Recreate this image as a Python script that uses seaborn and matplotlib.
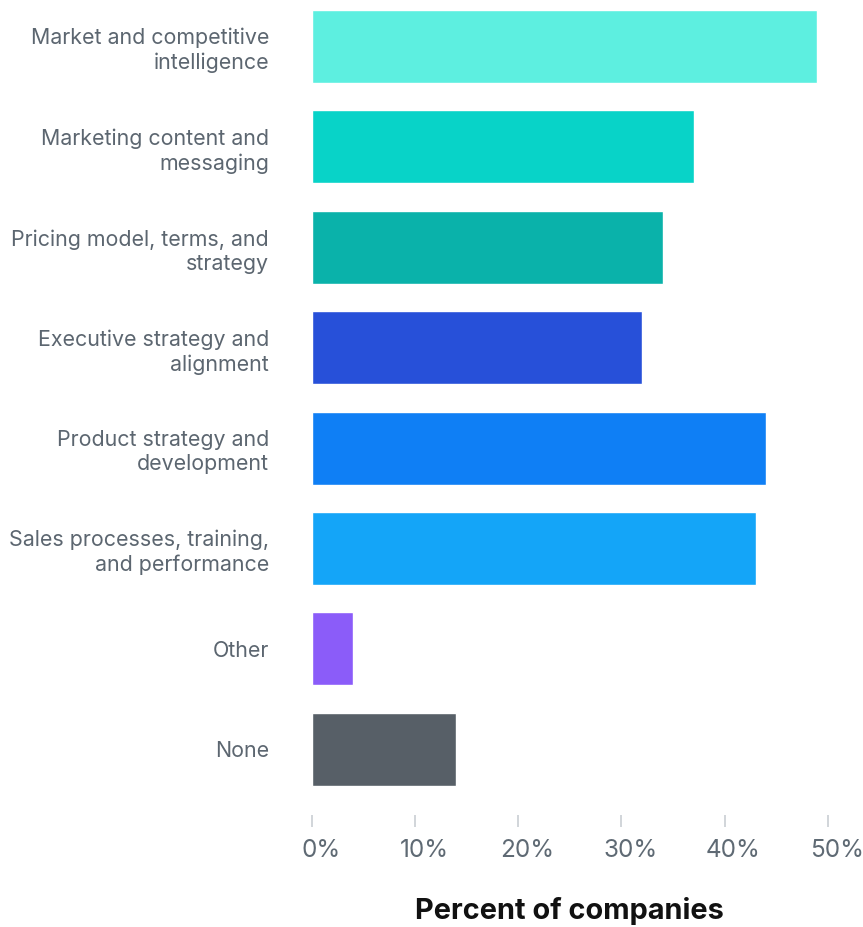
import matplotlib
matplotlib.use("Agg")
import matplotlib.pyplot as plt
import matplotlib.transforms as mtransforms
import seaborn as sns
import pandas as pd

categories = [
    "Market and competitive\nintelligence",
    "Marketing content and\nmessaging",
    "Pricing model, terms, and\nstrategy",
    "Executive strategy and\nalignment",
    "Product strategy and\ndevelopment",
    "Sales processes, training,\nand performance",
    "Other",
    "None",
]
percent = [49, 37, 34, 32, 44, 43, 4, 14]
bar_colors = ["#5DEFE0", "#08D3C8", "#0AB2AA", "#2750D9",
              "#0F7FF5", "#14A5F8", "#8B5CF9", "#575F67"]
x_ticks = [0, 10, 20, 30, 40, 50]
x_tick_labels = ["0%", "10%", "20%", "30%", "40%", "50%"]
x_title = "Percent of companies"

sns.set_theme(style="white")
plt.rcParams["font.family"] = ["Inter", "DejaVu Sans"]

df = pd.DataFrame({"category": categories, "percent": percent})

fig = plt.figure(figsize=(8.63, 9.27), dpi=100)
ax = fig.add_axes([312 / 863, 1 - 815 / 927, (827.7 - 312) / 863, 815 / 927])

sns.barplot(data=df, x="percent", y="category", hue="category",
            palette=bar_colors, orient="h", width=0.727,
            legend=False, saturation=1, ax=ax)

ax.set_xlim(0, 50)
ax.set_ylim(7.655, -0.463)
for s in ax.spines.values():
    s.set_visible(False)

ax.set_xticks(x_ticks)
ax.set_xticklabels(x_tick_labels)
ax.tick_params(axis="x", which="both", bottom=True, length=8.6, width=1.1,
               color="#C5CAD0", direction="out", pad=9,
               labelsize=17.5, labelcolor="#5F6A74")
ax.tick_params(axis="y", length=0, pad=31, labelsize=15.4, labelcolor="#5C6670")
for lbl in ax.get_yticklabels():
    lbl.set_linespacing(1.27)

shift = mtransforms.ScaledTranslation(9 / 100, 0, fig.dpi_scale_trans)
for lbl in ax.get_xticklabels():
    lbl.set_transform(lbl.get_transform() + shift)

ax.set_ylabel("")
ax.set_xlabel(x_title, fontsize=20.8, fontweight="bold", color="#111111")
ax.xaxis.set_label_coords(0.5, -(911 - 815) / 815)
ax.xaxis.label.set_va("center")
ax.grid(False)

fig.savefig("out.png", dpi=100)
